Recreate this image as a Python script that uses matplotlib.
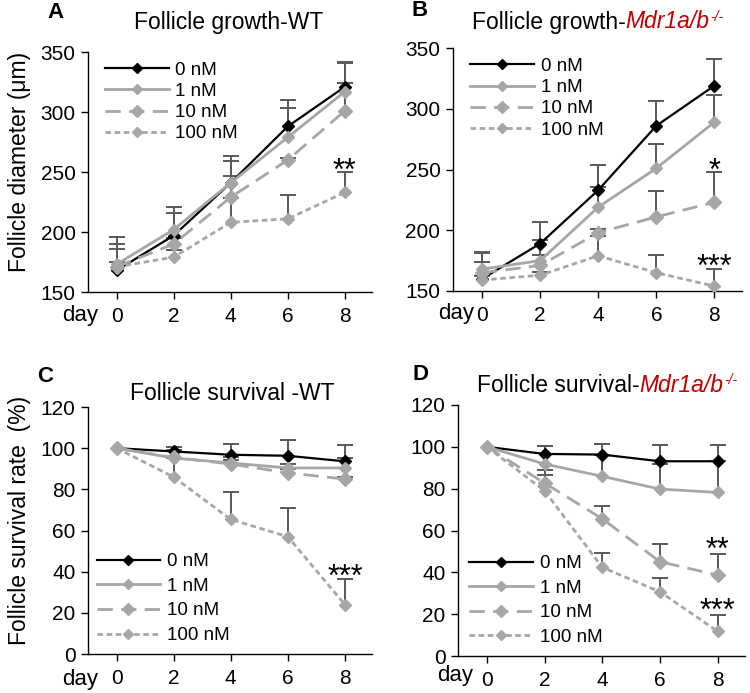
import matplotlib
matplotlib.use("Agg")
import matplotlib.pyplot as plt
import numpy as np

plt.rcParams['font.family'] = ['Liberation Sans', 'DejaVu Sans']

W, H = 750, 693

days = [0, 2, 4, 6, 8]
doses = ['0 nM', '1 nM', '10 nM', '100 nM']

# panel A - follicle growth, WT (um)
growth_wt = [
    [168, 197, 241, 288, 321],
    [173, 202, 241, 279, 317],
    [171, 190, 229, 260, 301],
    [171, 179, 208, 211, 233],
]
growth_wt_err = [
    [18, 19, 22, 22, 21],
    [23, 19, 18, 24, 24],
    [19, 5, 18, 2, 23],
    [4, 6, 20, 20, 17],
]

# panel B - follicle growth, Mdr1a/b-/-
growth_ko = [
    [160, 189, 233, 286, 319],
    [168, 175, 219, 251, 289],
    [165, 171, 198, 211, 223],
    [159, 163, 179, 165, 154],
]
growth_ko_err = [
    [22, 18, 21, 20, 22],
    [13, 17, 17, 20, 22],
    [9, 9, 3, 21, 25],
    [3, 3, 16, 15, 14],
]

# panel C - survival, WT (%)
surv_wt = [
    [100, 98.4, 96.8, 96.3, 93.6],
    [100, 95.2, 92.8, 90.4, 90.4],
    [100, 95.5, 92.3, 88, 85],
    [100, 86, 65.4, 57, 24],
]
surv_wt_err = [
    [0, 2, 5, 7.7, 8],
    [0, 4, 3, 2, 5],
    [0, 3, 2, 2, 1],
    [0, 9, 13.4, 14, 12.5],
]

# panel D - survival, Mdr1a/b-/-
surv_ko = [
    [100, 96.6, 96.3, 93.1, 93.1],
    [100, 91.8, 85.9, 79.8, 78.2],
    [100, 82.7, 65.6, 45.1, 38.7],
    [100, 79, 42.4, 30.7, 11.8],
]
surv_ko_err = [
    [0, 4, 5, 8, 8],
    [0, 8.5, 10, 12, 15],
    [0, 6, 6, 8.3, 10],
    [0, 7.4, 7, 6.7, 7.7],
]

gray = '#a6a6a6'
errc = '#595959'
red = '#c00000'
styles = [
    dict(color='black', ls='-', lw=1.6, marker='D', ms=6.5, mfc='black', mec='black'),
    dict(color=gray, ls='-', lw=2, marker='D', ms=6.5, mfc=gray, mec=gray),
    dict(color=gray, ls=(0, (5.5, 3)), lw=2, marker='D', ms=7.5, mfc=gray, mec=gray),
    dict(color=gray, ls=(0, (2, 1.3)), lw=2, marker='D', ms=6.5, mfc=gray, mec=gray),
]


def fpos(x, y):
    return x / W, 1 - y / H


def panel(rect, data, errs, ylim, yticks, legloc, stars):
    l, t, r, b = rect
    ax = fig.add_axes([l / W, 1 - b / H, (r - l) / W, (b - t) / H])
    for k in range(4):
        y = np.array(data[k])
        e = np.array(errs[k])
        m = e > 0
        x = np.array(days)[m]
        ax.vlines(x, y[m], y[m] + e[m], color=errc, lw=1.4, zorder=1)
        ax.plot(x, y[m] + e[m], ls='none', marker='_', ms=11, mew=1.4, color=errc, zorder=1)
    for k in range(4):
        ax.plot(days, data[k], label=doses[k], zorder=3, **styles[k])
    ax.set_xlim(-1, 8.95)
    ax.set_ylim(*ylim)
    ax.set_yticks(yticks)
    ax.set_xticks(days)
    for s in ['top', 'right']:
        ax.spines[s].set_visible(False)
    for s in ['left', 'bottom']:
        ax.spines[s].set_linewidth(1.0)
    ax.tick_params(direction='out', length=5, width=1.0, labelsize=15, pad=4)
    ax.tick_params(axis='x', pad=6)
    ax.legend(loc=legloc[0], bbox_to_anchor=legloc[1], frameon=False,
              fontsize=13.5, handlelength=3.4, handletextpad=0.35,
              labelspacing=legloc[2], borderpad=0, borderaxespad=0,
              markerscale=0.75)
    for txt, yv in stars:
        ax.annotate(txt, (8, yv), xytext=(0, -6), textcoords='offset points',
                    ha='center', va='center', fontsize=22)
    return ax


fig = plt.figure(figsize=(W / 100, H / 100), dpi=100)

panel((88, 52, 372, 292), growth_wt, growth_wt_err, (150, 350), range(150, 351, 50),
      ('upper left', (0.06, 0.96), 0.22), [('**', 257)])
panel((453, 48, 742, 291), growth_ko, growth_ko_err, (150, 350), range(150, 351, 50),
      ('upper left', (0.06, 0.96), 0.22), [('*', 255), ('***', 176)])
panel((88, 407, 372, 654), surv_wt, surv_wt_err, (0, 120), range(0, 121, 20),
      ('lower left', (0.03, 0.04), 0.4), [('***', 41)])
panel((458, 405, 745, 656), surv_ko, surv_ko_err, (0, 120), range(0, 121, 20),
      ('lower left', (0.04, 0.04), 0.4), [('**', 54), ('***', 25)])

# panel letters
for letter, (x, y) in zip('ABCD', [(55, 13), (420, 11), (45, 376), (420, 374)]):
    fig.text(*fpos(x, y), letter, fontsize=16, fontweight='bold', ha='center', va='center')

# titles
fig.text(*fpos(229, 22), 'Follicle growth-WT', fontsize=16.5, ha='center', va='center')
fig.text(*fpos(232, 394), 'Follicle survival -WT', fontsize=16.5, ha='center', va='center')
for (x, y), base in [((472, 22), 'Follicle growth-'), ((477, 385), 'Follicle survival-')]:
    t1 = fig.text(*fpos(x, y), base, fontsize=16.5, ha='left', va='center')
    t2 = fig.add_artist(plt.Annotation('Mdr1a/b', xy=(1, 0), xycoords=t1, va='bottom', ha='left',
                                       fontsize=16.5, style='italic', color=red))
    fig.add_artist(plt.Annotation('-/-', xy=(1, 1), xycoords=t2, xytext=(0.5, 0.5), textcoords='offset points',
                                  va='top', ha='left', fontsize=10, style='italic', color=red))

# y labels
fig.text(*fpos(20, 162), 'Follicle diameter (\u03bcm)', fontsize=16.5, rotation=90, ha='center', va='center')
fig.text(*fpos(20, 520), 'Follicle survival rate  (%)', fontsize=16.5, rotation=90, ha='center', va='center')

# "day" labels
for x, y in [(98, 316), (474, 314), (98, 680), (473, 676)]:
    fig.text(*fpos(x, y), 'day', fontsize=16, ha='right', va='center')

fig.savefig('out.png', dpi=100)
